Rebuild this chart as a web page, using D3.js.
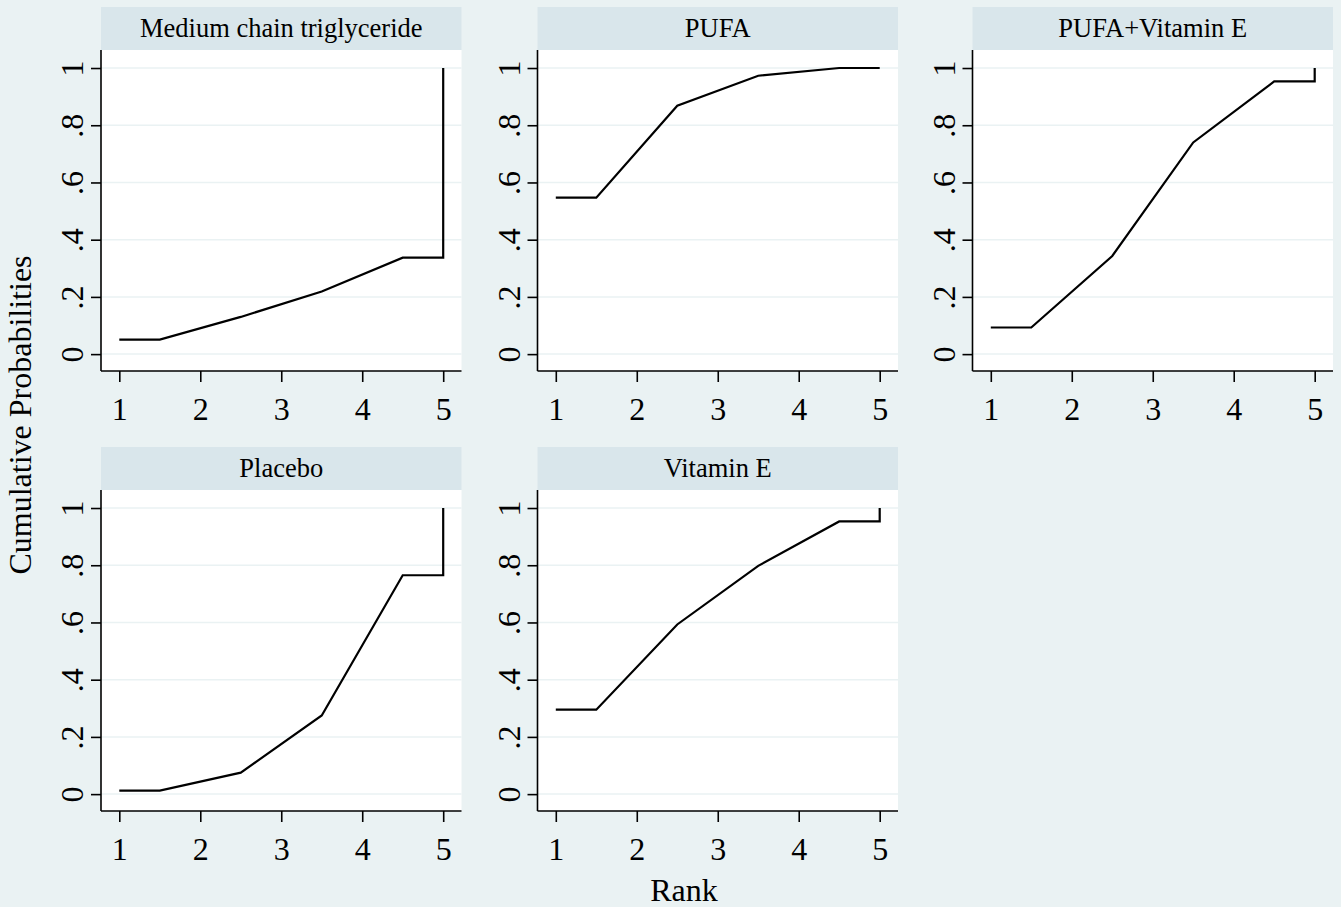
<!DOCTYPE html>
<html>
<head>
<meta charset="utf-8">
<script src="https://cdn.jsdelivr.net/npm/d3@7"></script>
<style>
  html, body { margin: 0; padding: 0; background: #EAF2F3; }
  svg { display: block; }
  text { font-family: "Liberation Serif", "Times New Roman", serif; fill: #000; }
</style>
</head>
<body>
<svg id="chart" width="1341" height="907"></svg>
<script>
// ---- Data ----
const treatments = ["Medium chain triglyceride", "PUFA", "PUFA+Vitamin E", "Placebo", "Vitamin E"];
const ranks = [1, 2, 3, 4, 5];
// cumulative ranking probabilities at ranks 1..4 (rank 5 = 1)
const cumMCT      = [0.051, 0.130, 0.219, 0.337];
const cumPUFA     = [0.547, 0.868, 0.973, 1.000];
const cumPUFAVitE = [0.093, 0.343, 0.740, 0.953];
const cumPlacebo  = [0.012, 0.075, 0.275, 0.765];
const cumVitE     = [0.295, 0.593, 0.798, 0.953];
const yTicks = [0, 0.2, 0.4, 0.6, 0.8, 1];
const yTickLabels = ["0", ".2", ".4", ".6", ".8", "1"];
const xTitle = "Rank";
const yTitle = "Cumulative Probabilities";

const seriesList = [cumMCT, cumPUFA, cumPUFAVitE, cumPlacebo, cumVitE];

// ---- Layout ----
const svg = d3.select("#chart");
const colLeft = [101, 537.5, 972.5];
const panelW = 360.5;
const rowTop = [7, 447];
const stripH = 43;
const plotH = 321;

const x = d3.scaleLinear().domain([0.774, 5.226]).range([0, panelW]);
const y = d3.scaleLinear().domain([-0.059, 1.063]).range([plotH, 0]);

function pathPoints(c) {
  // Stata-style cumulative rank plot: flat to 1.5, midpoints, flat to 5, step to 1
  return [
    [1, c[0]], [1.5, c[0]], [2.5, c[1]], [3.5, c[2]], [4.5, c[3]], [5, c[3]], [5, 1]
  ];
}

const line = d3.line().x(d => x(d[0])).y(d => y(d[1]));

treatments.forEach((name, i) => {
  const col = i % 3, row = Math.floor(i / 3);
  const gx = colLeft[col], gy = rowTop[row];
  const g = svg.append("g").attr("transform", `translate(${gx},${gy})`);

  // strip
  g.append("rect").attr("x", 0).attr("y", 0).attr("width", panelW).attr("height", stripH)
    .attr("fill", "#D9E6EB");
  g.append("text").attr("x", panelW / 2).attr("y", 29.5).attr("text-anchor", "middle")
    .attr("font-size", 26.5).text(name);

  const p = g.append("g").attr("transform", `translate(0,${stripH})`);
  p.append("rect").attr("x", 0).attr("y", 0).attr("width", panelW).attr("height", plotH)
    .attr("fill", "#fff");

  // gridlines
  p.selectAll("line.grid").data(yTicks).enter().append("line")
    .attr("x1", 0).attr("x2", panelW)
    .attr("y1", d => y(d)).attr("y2", d => y(d))
    .attr("stroke", "#EAF2F3").attr("stroke-width", 1.5);

  // y axis
  const yAxis = d3.axisLeft(y).tickValues(yTicks)
    .tickFormat((d, k) => yTickLabels[k]).tickSize(10).tickPadding(0);
  const ya = p.append("g").call(yAxis);
  ya.select(".domain").attr("d", `M0,0V${plotH}`).attr("stroke", "#000").attr("stroke-width", 1.6);
  ya.selectAll(".tick line").attr("stroke", "#000").attr("stroke-width", 1.6);
  ya.selectAll(".tick text")
    .attr("font-family", "Liberation Serif").attr("font-size", 32)
    .attr("x", null).attr("dy", null)
    .attr("text-anchor", "middle")
    .attr("transform", "translate(-18,0) rotate(-90)")
    .attr("y", 0);

  // x axis
  const xAxis = d3.axisBottom(x).tickValues(ranks).tickFormat(d3.format("d")).tickSize(11).tickPadding(0);
  const xa = p.append("g").attr("transform", `translate(0,${plotH})`).call(xAxis);
  xa.select(".domain").attr("d", `M0,0H${panelW}`).attr("stroke", "#000").attr("stroke-width", 1.6);
  xa.selectAll(".tick line").attr("stroke", "#000").attr("stroke-width", 1.6);
  xa.selectAll(".tick text")
    .attr("font-family", "Liberation Serif").attr("font-size", 32)
    .attr("dy", null).attr("y", 49);

  // series line
  p.append("path").datum(pathPoints(seriesList[i]))
    .attr("d", line).attr("fill", "none").attr("stroke", "#000")
    .attr("stroke-width", 2.2).attr("stroke-linejoin", "miter");
});

// axis titles
svg.append("text").attr("x", 684).attr("y", 901).attr("text-anchor", "middle")
  .attr("font-size", 32).text(xTitle);
svg.append("text").attr("transform", "translate(31,415) rotate(-90)")
  .attr("text-anchor", "middle").attr("font-size", 32).text(yTitle);
</script>
</body>
</html>
